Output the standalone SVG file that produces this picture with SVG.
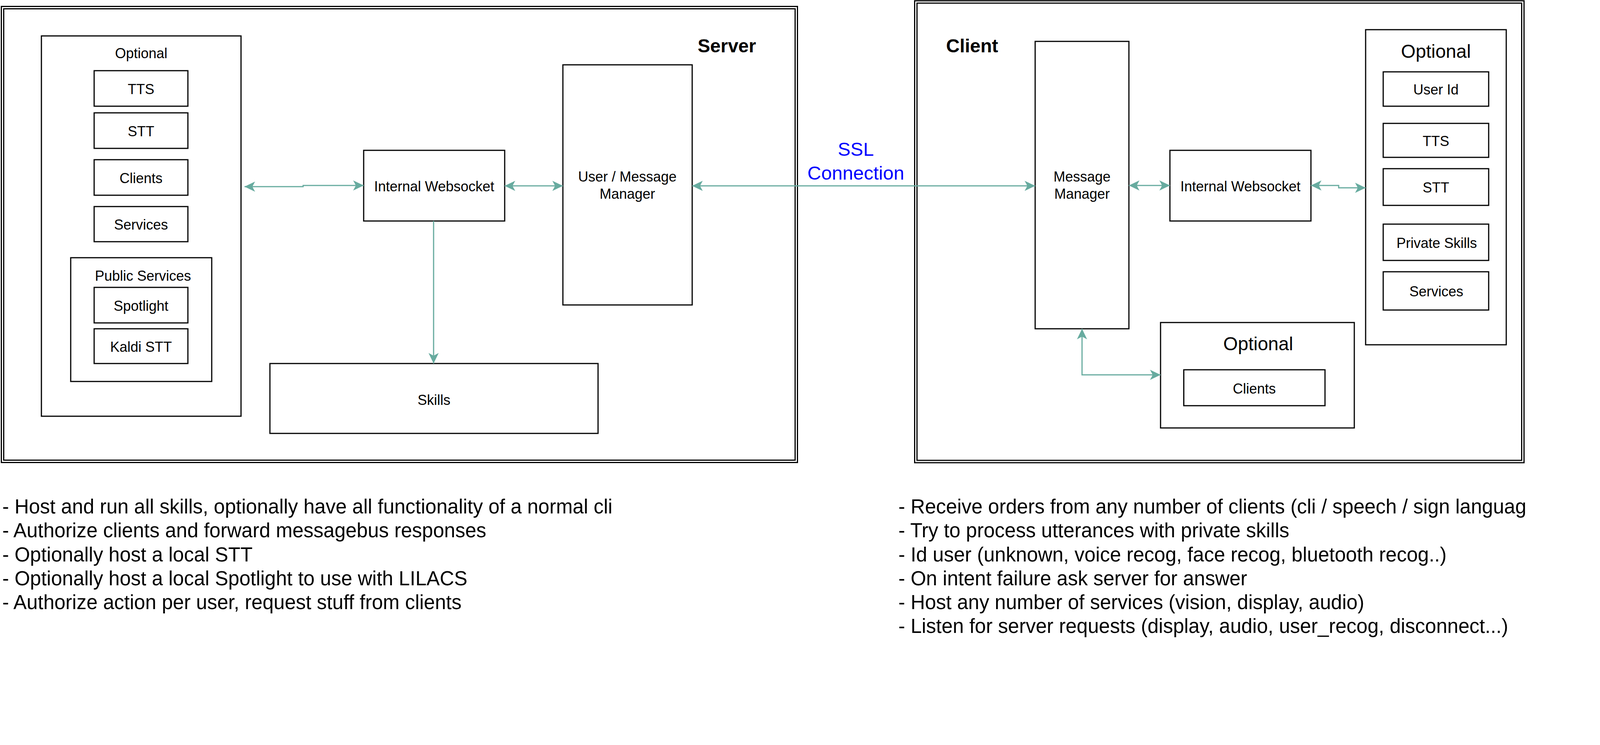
<svg xmlns="http://www.w3.org/2000/svg" width="4128" height="1908" viewBox="0 0 4128 1908">
<defs>
<style>
.box{fill:#fff;stroke:#000;stroke-width:3}
.frame{fill:none;stroke:#000;stroke-width:3}
.con{fill:none;stroke:#67AB9F;stroke-width:3;marker-end:url(#arr)}
.both{marker-start:url(#arr)}
text{font-family:"Liberation Sans",Arial,Helvetica,sans-serif;fill:#000}
.lbl{font-size:36px;text-anchor:middle}
.big{font-size:48px;text-anchor:middle}
.title{font-size:48px;font-weight:bold}
.note{font-size:51px}
.ssl{font-size:49px;fill:#0000FF;text-anchor:middle}
</style>
<marker id="arr" viewBox="-28 -14 29 28" refX="0" refY="0" markerWidth="29" markerHeight="28" markerUnits="userSpaceOnUse" orient="auto-start-reverse">
<path d="M0,0 L-27,-13 L-20,0 L-27,13 Z" fill="#67AB9F"/>
</marker>
<clipPath id="pubclip"><rect x="183" y="662" width="308" height="80"/></clipPath>
</defs>
<rect x="0" y="0" width="4128" height="1908" fill="#fff"/>

<g id="server">
<rect class="frame" x="3.5" y="16.5" width="2038" height="1168"/>
<rect class="frame" x="9.5" y="22.5" width="2026" height="1156"/>
<text class="title" x="1786" y="134">Server</text>
</g>

<g id="client">
<rect class="frame" x="2341.5" y="2" width="1560" height="1183"/>
<rect class="frame" x="2347.5" y="8" width="1548" height="1171"/>
<text class="title" x="2422" y="134">Client</text>
</g>

<g id="server-optional">
<rect class="box" x="106" y="92" width="511" height="974"/>
<text class="lbl" x="361.5" y="149">Optional</text>
</g>
<g id="server-tts"><rect class="box" x="241" y="181" width="240" height="91"/><text class="lbl" x="361" y="241">TTS</text></g>
<g id="server-stt"><rect class="box" x="241" y="289" width="240" height="91"/><text class="lbl" x="361" y="349">STT</text></g>
<g id="server-clients"><rect class="box" x="241" y="409" width="240" height="91"/><text class="lbl" x="361" y="469">Clients</text></g>
<g id="server-services"><rect class="box" x="241" y="529" width="240" height="90"/><text class="lbl" x="361" y="588">Services</text></g>
<g id="public-services">
<rect class="box" x="181" y="660" width="361" height="317"/>
<text class="lbl" x="243" y="719" style="text-anchor:start" clip-path="url(#pubclip)">Public Services</text>
</g>
<g id="spotlight"><rect class="box" x="241" y="736" width="240" height="91"/><text class="lbl" x="361" y="796">Spotlight</text></g>
<g id="kaldi"><rect class="box" x="241" y="842" width="240" height="89"/><text class="lbl" x="361" y="901">Kaldi STT</text></g>

<g id="server-websocket"><rect class="box" x="931" y="385" width="361" height="181"/><text class="lbl" x="1111.5" y="490">Internal Websocket</text></g>
<g id="user-message-manager"><rect class="box" x="1441" y="166" width="331" height="615"/><text class="lbl" x="1606" y="465">User / Message</text><text class="lbl" x="1606" y="509">Manager</text></g>
<g id="skills"><rect class="box" x="691" y="931" width="840" height="179"/><text class="lbl" x="1111" y="1037">Skills</text></g>

<g id="message-manager"><rect class="box" x="2650" y="106" width="240" height="736"/><text class="lbl" x="2770" y="465">Message</text><text class="lbl" x="2770" y="509">Manager</text></g>
<g id="client-websocket"><rect class="box" x="2995" y="385" width="361" height="181"/><text class="lbl" x="3175.5" y="490">Internal Websocket</text></g>

<g id="client-optional">
<rect class="box" x="3496" y="76" width="360" height="807"/>
<text class="big" x="3676" y="148">Optional</text>
</g>
<g id="user-id"><rect class="box" x="3541" y="184" width="270" height="88"/><text class="lbl" x="3676" y="242">User Id</text></g>
<g id="client-tts"><rect class="box" x="3541" y="316" width="270" height="87"/><text class="lbl" x="3676" y="374">TTS</text></g>
<g id="client-stt"><rect class="box" x="3541" y="432" width="270" height="94"/><text class="lbl" x="3676" y="493">STT</text></g>
<g id="private-skills"><rect class="box" x="3541" y="574" width="270" height="93"/><text class="lbl" x="3678" y="635">Private Skills</text></g>
<g id="client-services"><rect class="box" x="3541" y="696" width="270" height="98"/><text class="lbl" x="3677" y="759">Services</text></g>

<g id="client-optional-2">
<rect class="box" x="2971" y="826" width="496" height="270"/>
<text class="big" x="3221" y="897">Optional</text>
</g>
<g id="client-clients"><rect class="box" x="3030.5" y="947" width="361.5" height="92"/><text class="lbl" x="3211" y="1008">Clients</text></g>

<g id="connectors">
<path class="con both" d="M626,478 H776 V475 H931"/>
<path class="con both" d="M1292,476 H1441"/>
<path class="con" d="M1110,566 V931"/>
<path class="con both" d="M1772,476 H2650"/>
<path class="con both" d="M2890,475 H2995"/>
<path class="con both" d="M3356,475 H3427 V481 H3496"/>
<path class="con both" d="M2770,842 V960 H2971"/>
</g>

<g id="ssl-label">
<text class="ssl" x="2191" y="399">SSL</text>
<text class="ssl" x="2191" y="460">Connection</text>
</g>

<g id="server-notes">
<text class="note" x="6" y="1315">- Host and run all skills, optionally have all functionality of a normal cli</text>
<text class="note" x="6" y="1376">- Authorize clients and forward messagebus responses</text>
<text class="note" x="6" y="1438">- Optionally host a local STT</text>
<text class="note" x="6" y="1499">- Optionally host a local Spotlight to use with LILACS</text>
<text class="note" x="6" y="1560">- Authorize action per user, request stuff from clients</text>
</g>

<g id="client-notes">
<text class="note" x="2300" y="1315">- Receive orders from any number of clients (cli / speech / sign languag</text>
<text class="note" x="2300" y="1376">- Try to process utterances with private skills</text>
<text class="note" x="2300" y="1438">- Id user (unknown, voice recog, face recog, bluetooth recog..)</text>
<text class="note" x="2300" y="1499">- On intent failure ask server for answer</text>
<text class="note" x="2300" y="1560">- Host any number of services (vision, display, audio)</text>
<text class="note" x="2300" y="1621">- Listen for server requests (display, audio, user_recog, disconnect...)</text>
</g>
</svg>
